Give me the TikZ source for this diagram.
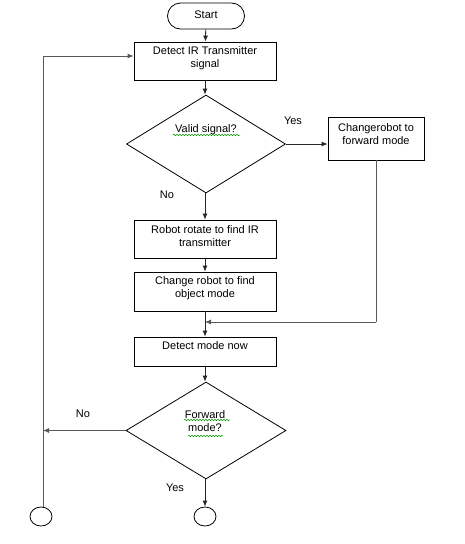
\documentclass[tikz,border=0pt]{standalone}
\usepackage{fontspec}
\setmainfont{Liberation Sans}
\usetikzlibrary{arrows.meta,shapes.geometric,decorations.pathmorphing}
\begin{document}
\begin{tikzpicture}[x=1pt,y=-1pt,
  font=\fontsize{11}{13}\selectfont,
  box/.style={draw=black,line width=0.8pt,rectangle,inner sep=0pt},
  dia/.style={draw=black,line width=0.8pt,diamond,inner sep=0pt},
  term/.style={draw=black,line width=0.8pt,rectangle,rounded corners=13pt,inner sep=0pt,minimum width=77pt,minimum height=26pt},
  endc/.style={draw=black,line width=0.8pt,ellipse,inner sep=0pt,minimum width=22pt,minimum height=19pt},
  txt/.style={align=center,inner sep=0pt},
  conn/.style={line width=0.8pt,draw=black!85,-{Latex[length=6pt,width=5pt]}},
  connl/.style={line width=0.8pt,draw=black!65},
  wavy/.style={draw=green!60!black,line width=0.5pt,decorate,decoration={snake,segment length=3pt,amplitude=0.8pt}}
]
\useasboundingbox (0,0) rectangle (464,544);

% nodes
\node[term] (start) at (206,16) {};
\node[txt] (startT) at (206,15) {Start};

\node[box,minimum width=142pt,minimum height=38pt] (detect) at (205,61) {};
\node[txt] (detectT) at (205,58.5) {Detect IR Transmitter\\signal};

\node[dia,minimum width=159pt,minimum height=98pt] (valid) at (206,144) {};
\node[txt] (validT) at (206,130) {Valid signal?};

\node[box,minimum width=96pt,minimum height=43pt] (fwd) at (376,138.5) {};
\node[txt] (fwdT) at (376,134) {Changerobot to\\forward mode};

\node[box,minimum width=142pt,minimum height=38pt] (rotate) at (205,239) {};
\node[txt] (rotateT) at (205,236.5) {Robot rotate to find IR\\transmitter};

\node[box,minimum width=142pt,minimum height=39pt] (obj) at (205,291.5) {};
\node[txt] (objT) at (205,288.5) {Change robot to find\\object mode};

\node[box,minimum width=142pt,minimum height=29pt] (mode) at (205,351.5) {};
\node[txt] (modeT) at (205,346) {Detect mode now};

\node[dia,minimum width=160pt,minimum height=97pt] (fmode) at (206,430.5) {};
\node[txt] (fmodeT) at (205,421) {Forward\\mode?};

\node[endc] (endL) at (41,516.5) {};
\node[endc] (endR) at (205,516.5) {};

% labels
\node[txt] (yes1) at (293,121) {Yes};
\node[txt] (no1) at (167,195) {No};
\node[txt] (no2) at (83,414) {No};
\node[txt] (yes2) at (175,488) {Yes};

% coordinates
\coordinate (loopTop) at (43,56);
\coordinate (loopNo) at (43,431);
\coordinate (junc) at (205,322);
\coordinate (rcorner) at (376,322);

% connectors
\draw[conn] (start) -- (detect);
\draw[conn] (detect.south) -- (detect.south |- valid.north);
\draw[conn] (valid.east) -- (valid.east -| fwd.west);
\draw[conn] (rotate.north |- valid.south) -- (rotate.north);
\draw[conn] (rotate) -- (obj);
\draw[conn] (obj) -- (mode);
\draw[connl] (fwd.south) -- (rcorner);
\draw[conn,draw=black!65] (rcorner) -- (junc);
\draw[conn] (mode.south) -- (mode.south |- fmode.north);
\draw[conn] (endR.north |- fmode.south) -- (endR.north);
\draw[conn,draw=black!65] (fmode.west) -- (fmode.west -| loopNo);
\draw[conn,draw=black!65] (endL.north -| loopTop) -- (loopTop) -- (detect.west |- loopTop);

% spell-check squiggles
\draw[wavy] (173,135) -- (240,135);
\draw[wavy] (184,420) -- (230,420);
\draw[wavy] (188,436) -- (223,436);
\end{tikzpicture}
\end{document}
